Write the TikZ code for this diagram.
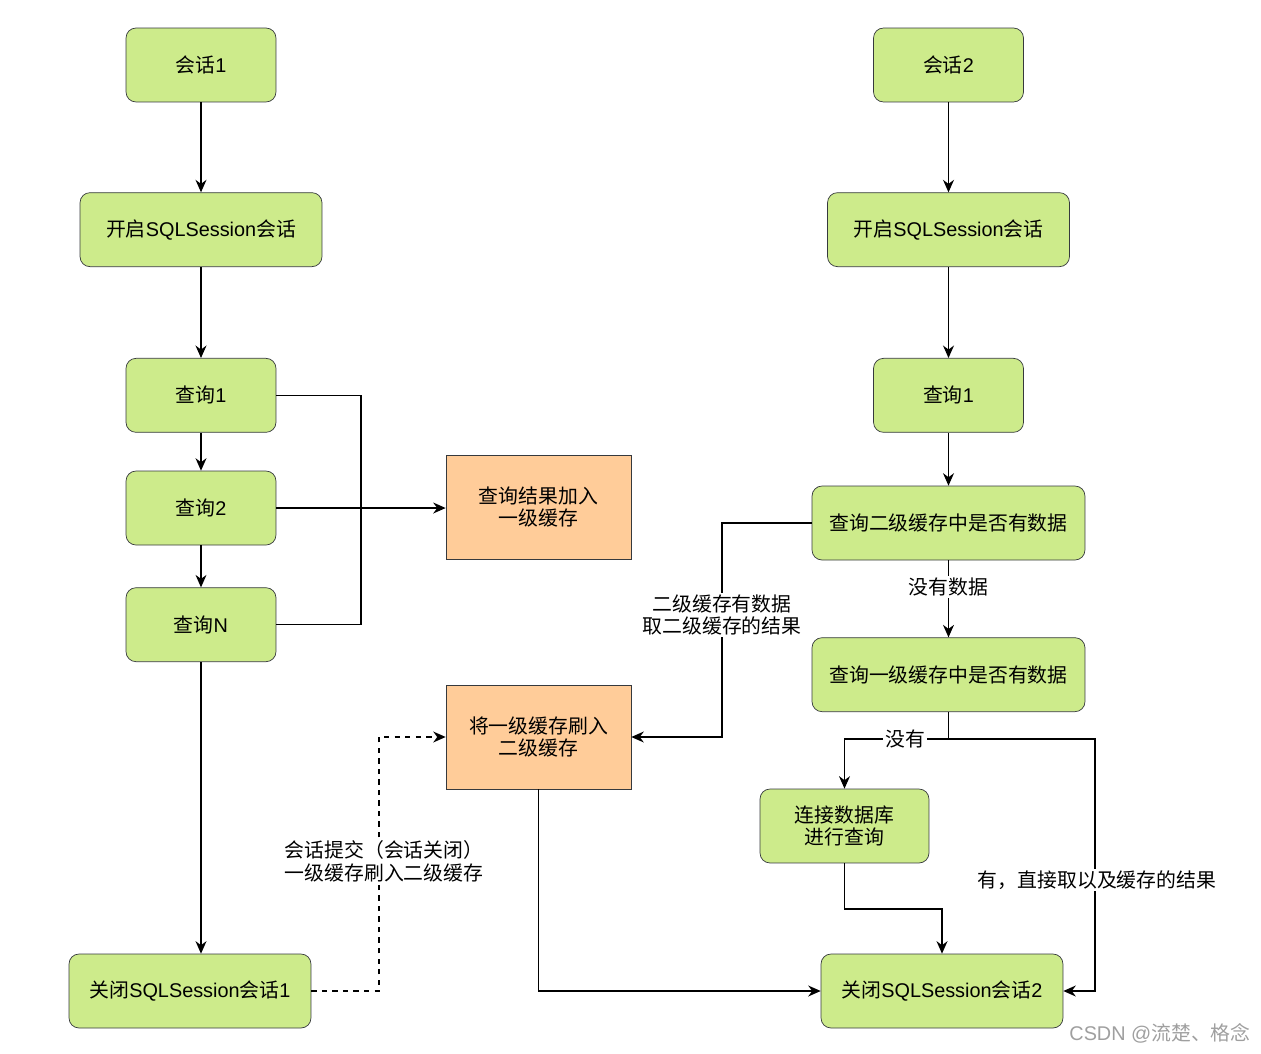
\documentclass[tikz,border=0pt]{standalone}
\usepackage{fontspec}
\setmainfont{Noto Sans CJK SC}
\newfontfamily\latinfont{Liberation Sans}
\newcommand{\en}[1]{{\latinfont #1}}
\usetikzlibrary{positioning,arrows.meta}

\definecolor{boxgreen}{HTML}{CDEB8B}
\definecolor{boxorange}{HTML}{FFCC99}
\definecolor{boxline}{HTML}{36393D}

\tikzset{
  step box/.style={draw=boxline, fill=boxgreen, rounded corners=0.2cm, align=center,
    minimum width=3cm, minimum height=1.48cm, inner sep=0pt},
  cache box/.style={draw=boxline, fill=boxorange, align=center,
    minimum width=3.7cm, minimum height=2.08cm, inner sep=0pt},
  flow/.style={draw, line width=0.7pt, -{Stealth[length=2.5mm,width=2.2mm]}},
  flowline/.style={draw, line width=0.7pt},
  lbl/.style={fill=white, align=center, inner sep=1pt}
}

\begin{document}
\begin{tikzpicture}[x=0.02cm, y=-0.02cm, font=\fontsize{11.3}{13}\selectfont]
  \useasboundingbox (0,0) rectangle (1261,1054);

  % session 1
  \node[step box] (sess1) at (201,65) {会话\en{1}};
  \node[step box, minimum width=4.84cm] (open1) [below=1.8cm of sess1] {开启\en{SQLSession}会话};
  \node[step box] (qryA) [below=1.82cm of open1] {查询\en{1}};
  \node[step box] (qryB) [below=0.76cm of qryA] {查询\en{2}};
  \node[step box] (qryN) [below=0.84cm of qryB] {查询\en{N}};
  \node[step box, minimum width=4.84cm] (close1) at (190,991) {关闭\en{SQLSession}会话\en{1}};

  \node[cache box] (level1) at (538.5,507) {查询结果加入\\一级缓存};
  \node[cache box] (flush) at (538.5,737) {将一级缓存刷入\\二级缓存};

  % session 2
  \node[step box] (sess2) at (948.5,65) {会话\en{2}};
  \node[step box, minimum width=4.84cm] (open2) [below=1.8cm of sess2] {开启\en{SQLSession}会话};
  \node[step box] (qryR) [below=1.82cm of open2] {查询\en{1}};
  \node[step box, minimum width=5.46cm] (check2) [below=1.06cm of qryR] {查询二级缓存中是否有数据};
  \node[step box, minimum width=5.46cm] (check1) [below=1.54cm of check2] {查询一级缓存中是否有数据};
  \node[step box, minimum width=3.38cm] (dbq) at (844.5,826) {连接数据库\\进行查询};
  \node[step box, minimum width=4.84cm] (close2) at (942,991) {关闭\en{SQLSession}会话\en{2}};

  \coordinate (split) at (948.5,739);

  \path[flow] (sess1) -- (open1);
  \path[flow] (open1) -- (qryA);
  \path[flow] (qryA) -- (qryB);
  \path[flow] (qryB) -- (qryN);
  \path[flowline] (qryA.east) -| (361,507);
  \path[flowline] (qryN.east) -| (361,507);
  \path[flow] (qryB.east) -- (qryB.east -| level1.west);
  \path[flow] (qryN.south) -- (qryN.south |- close1.north);

  \path[flow, dashed] (close1.east) -| (379,737) -- (flush.west);
  \node[lbl] (commitlbl) at (384,861) {会话提交（会话关闭）\\一级缓存刷入二级缓存};
  \path[flow] (flush.south) |- (close2.west);

  \path[flow] (sess2) -- (open2);
  \path[flow] (open2) -- (qryR);
  \path[flow] (qryR) -- (check2);
  \path[flow] (check2.west) -| (722,737) -- (flush.east);
  \node[lbl] (hitlbl) at (722,615) {二级缓存有数据\\取二级缓存的结果};
  \path[flow] (check2) -- (check1);
  \node[lbl] (misslbl) at (948.5,587) {没有数据};
  \path[flowline] (check1.south) -- (split);
  \path[flow] (split) -| (dbq.north);
  \node[lbl] (nolbl) at (905,739) {没有};
  \path[flow] (split) -| (1095,991) -- (close2.east);
  \node[lbl] (yeslbl) at (1097,880) {有，直接取以及缓存的结果};
  \path[flow] (dbq.south) |- (942,909) -- (close2.north);

  \node[text=gray!75] (mark) at (1160,1033) {\en{CSDN @}流楚、格念};
\end{tikzpicture}
\end{document}
